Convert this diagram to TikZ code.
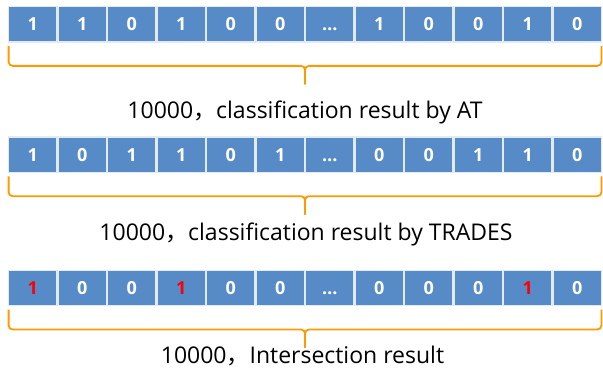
\documentclass[tikz,border=0pt]{standalone}
\usepackage{fontspec}
\usepackage{xcolor}
\setmainfont{Open Sans}
\newfontfamily\cjk{Noto Sans CJK SC}
\usetikzlibrary{matrix}

\definecolor{cellblue}{RGB}{87,139,199}
\definecolor{braceorange}{RGB}{255,153,0}
\definecolor{hitred}{RGB}{255,0,0}

\tikzset{
	bits/.style={matrix of nodes, inner sep=0pt, column sep=0pt, nodes={cell}},
	cell/.style={fill=cellblue, draw=white!82!cellblue, line width=1.2pt, anchor=center,
		minimum width=48.3pt, minimum height=35.3pt, inner sep=0pt, outer sep=0pt,
		text height=13pt, text depth=0pt,
		text=white, font=\fontsize{18}{18}\selectfont\bfseries},
	hit/.style={text=hitred},
	bracket/.style={draw=braceorange, line width=1.8pt, rounded corners=4pt},
	caption/.style={inner sep=0pt, anchor=base, font=\fontsize{23}{23}\selectfont}
}

% bracket under a row of bits, with its tip at (#1-tip)
\newcommand{\bitbrace}[1]{
	\draw [bracket] ([yshift=-4pt]#1-1-1.south west) |- ([yshift=-23pt]#1.south) -- ++(0,-18.5pt) coordinate (#1-tip);
	\draw [bracket] (#1-tip) -- ([yshift=-23pt]#1.south) -| ([yshift=-4pt]#1-1-12.south east);
}

\begin{document}
\begin{tikzpicture}[x=1pt,y=1pt]
		\useasboundingbox (0,0) rectangle (603,-368);
		
		\matrix (AT) [bits] at (305,-24.4) {
			1 & 1 & 0 & 1 & 0 & 0 & … & 1 & 0 & 0 & 1 & 0 \\
		};
		\bitbrace{AT}
		\node (ATtext) [caption] at (305,-118) {10000{\cjk ，}classification result by AT};
		
		\matrix (TR) [bits] at (305,-154.7) {
			1 & 0 & 1 & 1 & 0 & 1 & … & 0 & 0 & 1 & 1 & 0 \\
		};
		\bitbrace{TR}
		\node (TRtext) [caption] at (306,-240) {10000{\cjk ，}classification result by TRADES};
		
		\matrix (IN) [bits] at (305,-288) {
			|[hit]| 1 & 0 & 0 & |[hit]| 1 & 0 & 0 & … & 0 & 0 & 0 & |[hit]| 1 & 0 \\
		};
		\bitbrace{IN}
		\node (INtext) [caption] at (302.5,-363.5) {10000{\cjk ，}Intersection result};
	\end{tikzpicture}
\end{document}
